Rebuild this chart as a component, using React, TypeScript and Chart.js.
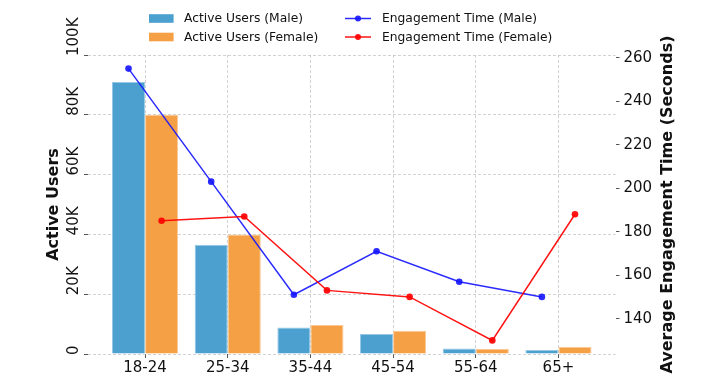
import React, { useEffect, useRef } from "react";
import { Chart, registerables } from "chart.js";

Chart.register(...registerables);

const categories = ["18-24", "25-34", "35-44", "45-54", "55-64", "65+"];
const activeMale = [91000, 36500, 8900, 6700, 1800, 1300];
const activeFemale = [80000, 40000, 9700, 7800, 1700, 2300];
const engageMale = [255, 203, 151, 171, 157, 150];
const engageFemale = [185, 187, 153, 150, 130, 188];
const leftTicks = [0, 20000, 40000, 60000, 80000, 100000];
const leftTickLabels = ["0", "20K", "40K", "60K", "80K", "100K"];
const rightTicks = [140, 160, 180, 200, 220, 240, 260];

const FONT = '"DejaVu Sans", sans-serif';
const TEXT = "#111";
const BLUE_BAR = "#4BA0D0";
const ORANGE_BAR = "#F6A045";
const BLUE_LINE = "rgba(20,20,255,0.9)";
const RED_LINE = "rgba(255,0,0,0.92)";
const GRID = "rgba(180,180,180,0.75)";
const BAR_OFFSET = 0.2;

const overlay = {
  id: "overlay",
  afterDraw(chart: any) {
    const { ctx, chartArea } = chart;
    const yScale = chart.scales.y;
    ctx.save();
    ctx.fillStyle = TEXT;
    ctx.font = `15px ${FONT}`;
    ctx.textAlign = "left";
    ctx.textBaseline = "alphabetic";
    leftTicks.forEach((v, i) => {
      ctx.save();
      ctx.translate(chartArea.left - 10, yScale.getPixelForValue(v) + 1);
      ctx.rotate(-Math.PI / 2);
      ctx.fillText(leftTickLabels[i], 0, 0);
      ctx.restore();
    });

    const midY = (chartArea.top + chartArea.bottom) / 2;
    ctx.font = `bold 16px ${FONT}`;
    ctx.textAlign = "center";
    ctx.save();
    ctx.translate(chartArea.left - 30, midY);
    ctx.rotate(-Math.PI / 2);
    ctx.fillText("Active Users", 0, 0);
    ctx.restore();
    ctx.save();
    ctx.translate(chartArea.right + 56, midY);
    ctx.rotate(-Math.PI / 2);
    ctx.fillText("Average Engagement Time (Seconds)", 0, 0);
    ctx.restore();

    // legend
    const rows = [18.5, 37];
    ctx.font = `12.3px ${FONT}`;
    ctx.textAlign = "left";
    ctx.textBaseline = "middle";
    const barItems = [
      { label: "Active Users (Male)", color: BLUE_BAR },
      { label: "Active Users (Female)", color: ORANGE_BAR },
    ];
    barItems.forEach((it, r) => {
      ctx.fillStyle = it.color;
      ctx.fillRect(149, rows[r] - 4.3, 24.6, 8.6);
      ctx.fillStyle = TEXT;
      ctx.fillText(it.label, 184, rows[r] + 0.5);
    });
    const lineItems = [
      { label: "Engagement Time (Male)", color: BLUE_LINE },
      { label: "Engagement Time (Female)", color: RED_LINE },
    ];
    lineItems.forEach((it, r) => {
      ctx.strokeStyle = it.color;
      ctx.lineWidth = 1.5;
      ctx.beginPath();
      ctx.moveTo(345, rows[r]);
      ctx.lineTo(371, rows[r]);
      ctx.stroke();
      ctx.fillStyle = it.color;
      ctx.beginPath();
      ctx.arc(358, rows[r], 3, 0, Math.PI * 2);
      ctx.fill();
      ctx.fillStyle = TEXT;
      ctx.fillText(it.label, 382, rows[r] + 0.5);
    });
    ctx.restore();
  },
};

export default function App() {
  const ref = useRef<HTMLCanvasElement | null>(null);
  useEffect(() => {
    if (!ref.current) return;
    const chart = new Chart(ref.current, {
      type: "bar",
      data: {
        datasets: [
          {
            type: "line",
            label: "Engagement Time (Female)",
            data: engageFemale.map((v, i) => ({ x: i + BAR_OFFSET, y: v })),
            yAxisID: "y1",
            borderColor: RED_LINE,
            backgroundColor: RED_LINE,
            pointBackgroundColor: RED_LINE,
            pointBorderWidth: 0,
            pointRadius: 3.3,
            borderWidth: 1.5,
            tension: 0,
            fill: false,
            order: 0,
          } as any,
          {
            type: "line",
            label: "Engagement Time (Male)",
            data: engageMale.map((v, i) => ({ x: i - BAR_OFFSET, y: v })),
            yAxisID: "y1",
            borderColor: BLUE_LINE,
            backgroundColor: BLUE_LINE,
            pointBackgroundColor: BLUE_LINE,
            pointBorderWidth: 0,
            pointRadius: 3.3,
            borderWidth: 1.5,
            tension: 0,
            fill: false,
            order: 1,
          } as any,
          {
            type: "bar",
            label: "Active Users (Male)",
            data: activeMale.map((v, i) => ({ x: i, y: v })),
            yAxisID: "y",
            backgroundColor: BLUE_BAR,
            borderColor: "rgba(150,200,228,1)",
            borderWidth: 1,
            categoryPercentage: 0.8,
            barPercentage: 1,
            order: 2,
          } as any,
          {
            type: "bar",
            label: "Active Users (Female)",
            data: activeFemale.map((v, i) => ({ x: i, y: v })),
            yAxisID: "y",
            backgroundColor: ORANGE_BAR,
            borderColor: "rgba(250,200,150,1)",
            borderWidth: 1,
            categoryPercentage: 0.8,
            barPercentage: 1,
            order: 2,
          } as any,
        ],
      },
      options: {
        animation: false,
        responsive: false,
        devicePixelRatio: 1,
        layout: { padding: { top: 55, left: 0, right: 0, bottom: 0 } },
        plugins: { legend: { display: false }, tooltip: { enabled: false } },
        scales: {
          x: {
            type: "linear",
            offset: false,
            min: -0.69,
            max: 5.69,
            afterBuildTicks: (scale: any) => {
              scale.ticks = categories.map((_, i) => ({ value: i }));
            },
            afterFit: (scale: any) => {
              scale.height = 27;
            },
            ticks: {
              callback: (v: any) => categories[Math.round(Number(v))] ?? "",
              font: { family: FONT, size: 15 },
              color: TEXT,
              padding: 1,
              maxRotation: 0,
              autoSkip: false,
            },
            grid: {
              offset: false,
              color: GRID,
              lineWidth: 0.8,
              tickColor: "#555",
              tickBorderDash: [],
              tickLength: 4,
              tickWidth: 1,
            },
            border: { display: false, dash: [3, 2] },
          },
          y: {
            type: "linear",
            position: "left",
            min: 0,
            max: 100000,
            afterBuildTicks: (scale: any) => {
              scale.ticks = leftTicks.map((v) => ({ value: v }));
            },
            afterFit: (scale: any) => {
              scale.width = 88;
            },
            ticks: { display: false },
            grid: {
              color: GRID,
              lineWidth: 0.8,
              tickColor: "#555",
              tickBorderDash: [],
              tickLength: 4,
              tickWidth: 1,
            },
            border: { display: false, dash: [3, 2] },
          },
          y1: {
            type: "linear",
            position: "right",
            min: 123.75,
            max: 261.25,
            afterBuildTicks: (scale: any) => {
              scale.ticks = rightTicks.map((v) => ({ value: v }));
            },
            afterFit: (scale: any) => {
              scale.width = 97.5;
            },
            ticks: {
              font: { family: FONT, size: 15 },
              color: TEXT,
              padding: 4,
            },
            grid: {
              drawOnChartArea: false,
              color: GRID,
              tickColor: "#555",
              tickBorderDash: [],
              tickLength: 4,
              tickWidth: 1,
            },
            border: { display: false },
          },
        },
      } as any,
      plugins: [overlay],
    });
    return () => chart.destroy();
  }, []);
  return (
    <div style={{ position: "absolute", left: 0, top: 0, width: 713, height: 381, background: "#fff" }}>
      <canvas ref={ref} width={713} height={381} />
    </div>
  );
}
